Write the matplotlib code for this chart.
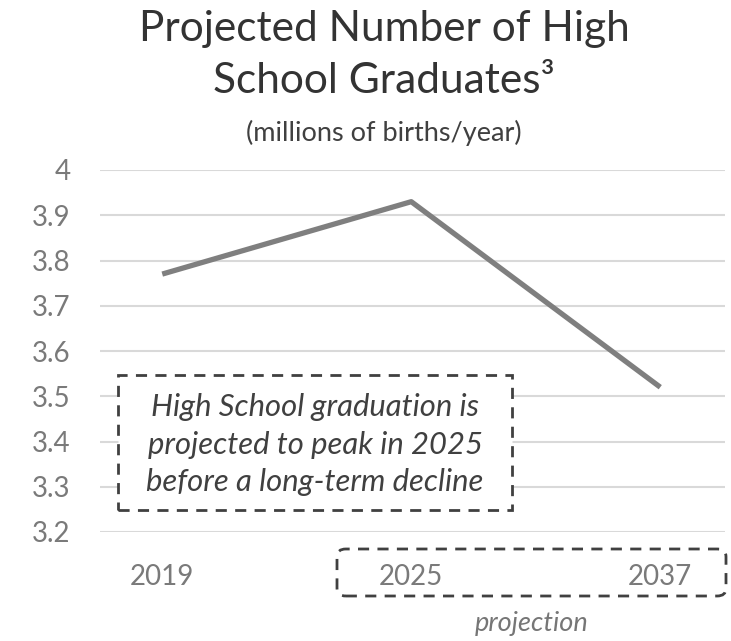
import matplotlib
matplotlib.use("Agg")
import matplotlib.pyplot as plt
from matplotlib.patches import FancyBboxPatch, Rectangle

years = ["2019", "2025", "2037"]
graduates = [3.77, 3.93, 3.52]
yticks = [3.2, 3.3, 3.4, 3.5, 3.6, 3.7, 3.8, 3.9, 4.0]
ytick_labels = ["3.2", "3.3", "3.4", "3.5", "3.6", "3.7", "3.8", "3.9", "4"]

FONT = "Lato"
plt.rcParams["font.family"] = [FONT, "DejaVu Sans"]

W, H = 731, 641
fig = plt.figure(figsize=(W / 100, H / 100), dpi=100)

def fx(px):
    return px / W

def fy(py):
    return 1 - py / H

ax = fig.add_axes([fx(100), fy(532), fx(725) - fx(100), fy(170) - fy(532)])
x = list(range(len(years)))
ax.plot(x, graduates, color="#7f7f7f", lw=3.8, solid_capstyle="butt", zorder=3)
ax.set_xlim(-0.25, 2.26)
ax.set_ylim(3.2, 4.0)
ax.set_yticks(yticks)
ax.set_yticklabels(ytick_labels)
ax.set_xticks(x)
ax.set_xticklabels(years)
ax.tick_params(axis="y", length=0, pad=21, labelsize=20, labelcolor="#7a7a7a")
ax.tick_params(axis="x", length=0, pad=23, labelsize=20, labelcolor="#7a7a7a")
ax.grid(axis="y", color="#d9d9d9", lw=1.5)
ax.set_axisbelow(True)
for s in ax.spines.values():
    s.set_visible(False)

# title
TX = fx(384)
fig.text(TX, fy(29), "Projected Number of High", ha="center", va="center",
         fontsize=30.5, color="#333333")
fig.text(TX, fy(81), "School Graduates³", ha="center", va="center",
         fontsize=30.5, color="#333333")
fig.text(TX, fy(133), "(millions of births/year)", ha="center", va="center",
         fontsize=19.5, color="#404040")

# annotation box
rect = Rectangle((fx(118), fy(510)), fx(512) - fx(118), fy(375) - fy(510),
                 transform=fig.transFigure, facecolor="white", edgecolor="#404040",
                 lw=2, linestyle=(0, (4, 3)), zorder=5)
fig.patches.append(rect)
for txt, py in [("High School graduation is", 407),
                ("projected to peak in 2025", 445),
                ("before a long-term decline", 482)]:
    fig.text(fx(315), fy(py), txt, ha="center", va="center", fontsize=22.3,
             style="italic", color="#404040", zorder=6)

# projection box
pb = FancyBboxPatch((fx(337), fy(596)), fx(726) - fx(337), fy(549) - fy(596),
                    boxstyle="round,pad=0,rounding_size=0.012",
                    transform=fig.transFigure, facecolor="none", edgecolor="#404040",
                    lw=2, linestyle=(0, (4, 3)), zorder=5)
fig.patches.append(pb)
fig.text(fx(532), fy(624), "projection", ha="center", va="center", fontsize=19.5,
         style="italic", color="#767676")

fig.savefig("out.png", dpi=100)
